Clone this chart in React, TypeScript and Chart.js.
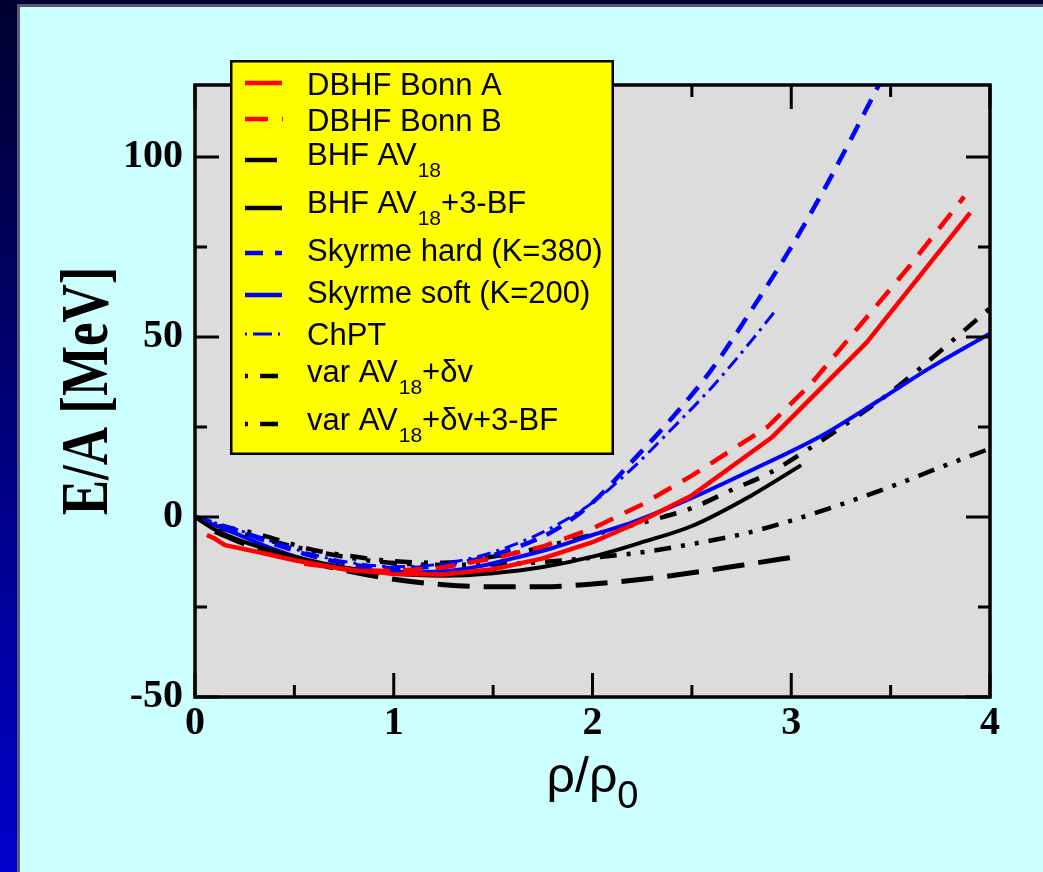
import React, { useEffect, useRef } from "react";
import { Chart, registerables } from "chart.js";

Chart.register(...registerables);

// ---------------- data ----------------
const xTicks = [0, 1, 2, 3, 4];
const yTicks = [-50, 0, 50, 100];
const xMinorTicks = [0.5, 1.5, 2.5, 3.5];
const yMinorTicks = [-25, 25, 75];

const seriesNames = [
  "DBHF Bonn A",
  "DBHF Bonn B",
  "BHF AV18",
  "BHF AV18+3-BF",
  "Skyrme hard (K=380)",
  "Skyrme soft (K=200)",
  "ChPT",
  "var AV18+δv",
  "var AV18+δv+3-BF",
];

// legend text split into [main, subscript, suffix]
const legendParts = [
  ["DBHF Bonn A"],
  ["DBHF Bonn B"],
  ["BHF AV", "18"],
  ["BHF AV", "18", "+3-BF"],
  ["Skyrme hard (K=380)"],
  ["Skyrme soft (K=200)"],
  ["ChPT"],
  ["var AV", "18", "+δv"],
  ["var AV", "18", "+δv+3-BF"],
];

const bonnAX = [0.06, 0.1, 0.15, 0.3, 0.5, 0.75, 1.0, 1.25, 1.5, 1.75, 2.0, 2.25, 2.5, 2.9, 3.38, 3.9];
const bonnAY = [-5, -6, -7.8, -9.5, -12, -14.5, -15.8, -16, -14.5, -11.5, -7, -1, 6, 22, 48.5, 84.5];

const bonnBX = [0.55, 0.8, 1.0, 1.25, 1.5, 1.75, 2.0, 2.25, 2.5, 2.88, 3.1, 3.38, 3.6, 3.87];
const bonnBY = [-13, -14.8, -15, -14, -11.5, -8.2, -3.2, 3.5, 11.5, 25, 37, 55.5, 70, 89];

const bhfX = [0.1, 0.25, 0.5, 0.75, 1.0, 1.25, 1.5, 1.75, 2.0, 2.25, 2.5, 2.75, 3.05];
const bhfY = [-4, -7.5, -11.5, -14.8, -17.3, -18.8, -19.4, -19.4, -18.6, -17.3, -15.5, -13.4, -10.8];

const bhf3X = [0, 0.1, 0.25, 0.5, 0.75, 1.0, 1.25, 1.5, 1.75, 2.0, 2.25, 2.5, 2.8, 3.05];
const bhf3Y = [0, -3.5, -7, -11, -14, -15.8, -16.3, -15.6, -13.9, -11, -7, -2.5, 6, 14.4];

const hardX = [0, 0.2, 0.4, 0.6, 0.8, 1.0, 1.2, 1.4, 1.6, 1.8, 2.0, 2.2, 2.4, 2.6, 2.8, 3.0, 3.2, 3.45];
const hardY = [0, -3.5, -7.5, -11, -13.3, -14.2, -13.8, -12, -8.8, -4, 4, 15.5, 27.5, 41, 57.5, 75, 94.5, 121];

const softX = [0, 0.2, 0.4, 0.6, 0.8, 1.0, 1.2, 1.4, 1.6, 1.8, 2.0, 2.2, 2.5, 2.8, 3.15, 3.43, 3.7, 4.0];
const softY = [0, -4.5, -9, -12.5, -14.5, -15.3, -15.2, -14, -11.5, -8.6, -5, -1.5, 5.3, 13, 22.5, 32, 41.5, 51];

const chptX = [0, 0.2, 0.4, 0.6, 0.8, 1.0, 1.2, 1.4, 1.6, 1.8, 2.0, 2.2, 2.4, 2.6, 2.8, 2.93];
const chptY = [0, -3.3, -7, -10.5, -12.8, -13.8, -13.3, -11.3, -7.8, -2.8, 4, 13.5, 24.5, 36, 49, 58];

const varX = [0.12, 0.3, 0.6, 0.8, 1.0, 1.25, 1.5, 1.75, 2.0, 2.25, 2.5, 2.75, 3.0, 3.25, 3.5, 3.75, 4.0];
const varY = [-3, -5.5, -9.5, -11.5, -12.8, -13.3, -13.2, -12.5, -11.3, -9.8, -7.5, -4.8, -1, 3.5, 8.4, 13.8, 19];

const var3X = [0.12, 0.3, 0.6, 0.8, 1.0, 1.25, 1.5, 1.7, 1.9, 2.1, 2.33, 2.5, 2.7, 2.9, 3.09, 3.27, 3.46, 3.62, 3.79, 4.0];
const var3Y = [-2.5, -4.5, -9.2, -11, -12.3, -12.7, -11, -9, -6.3, -3.6, -0.4, 2.5, 7.5, 12.5, 19, 25.6, 33, 40, 48, 58];

// ---------------- styles ----------------
const RED = "#ff0000";
const BLUE = "#0000ff";
const BLACK = "#000000";
const SERIF = "'Liberation Serif', 'Times New Roman', serif";
const SANS = "'Liberation Sans', Arial, Helvetica, sans-serif";

const pts = (xs: number[], ys: number[]) => xs.map((x, i) => ({ x, y: ys[i] }));

const seriesStyle = [
  { color: RED, width: 4.5, dash: [] as number[], smooth: false, legendDash: [] as number[], legendEnd: 282, legendWidth: 4.5 },
  { color: RED, width: 4.5, dash: [20, 13], smooth: false, legendDash: [23, 14], legendEnd: 283, legendWidth: 4.5 },
  { color: BLACK, width: 5, dash: [32, 14], smooth: true, legendDash: [], legendEnd: 277, legendWidth: 4.5 },
  { color: BLACK, width: 4, dash: [], smooth: true, legendDash: [], legendEnd: 282, legendWidth: 4.5 },
  { color: BLUE, width: 4.5, dash: [17, 11], smooth: true, legendDash: [18, 12], legendEnd: 282, legendWidth: 4.5 },
  { color: BLUE, width: 4, dash: [], smooth: true, legendDash: [], legendEnd: 282, legendWidth: 4.5 },
  { color: BLUE, width: 3, dash: [14, 6, 3, 6], smooth: true, legendDash: [2, 6, 19, 6], legendEnd: 282, legendWidth: 3 },
  { color: BLACK, width: 4.5, dash: [17, 10, 4, 10, 4, 10], smooth: true, legendDash: [3, 12, 18, 100], legendEnd: 282, legendWidth: 4.5 },
  { color: BLACK, width: 4.5, dash: [17, 12, 4, 12], smooth: true, legendDash: [3, 12, 18, 100], legendEnd: 282, legendWidth: 4.5 },
];

const seriesData = [
  pts(bonnAX, bonnAY),
  pts(bonnBX, bonnBY),
  pts(bhfX, bhfY),
  pts(bhf3X, bhf3Y),
  pts(hardX, hardY),
  pts(softX, softY),
  pts(chptX, chptY),
  pts(varX, varY),
  pts(var3X, var3Y),
];

// legend layout (line y, text baseline y)
const legendRows = [
  [83, 95], [119, 131], [160, 165], [208, 213], [253, 261],
  [295, 303], [334, 345], [376, 382], [424, 430],
];

const decorPlugin = {
  id: "decor",
  beforeDraw(chart: any) {
    const { ctx, width, height, chartArea: ca } = chart;
    ctx.save();
    const g = ctx.createLinearGradient(0, 0, 0, height);
    g.addColorStop(0, "#00002e");
    g.addColorStop(1, "#0000cc");
    ctx.fillStyle = g;
    ctx.fillRect(0, 0, width, height);
    ctx.fillStyle = "#5a5a78";
    ctx.fillRect(17, 4, width - 17, height - 4);
    ctx.fillStyle = "#ccffff";
    ctx.fillRect(20, 7, width - 20, height - 7);
    ctx.fillStyle = "#dcdcdc";
    ctx.fillRect(ca.left, ca.top, ca.right - ca.left, ca.bottom - ca.top);
    ctx.restore();
  },
  afterDraw(chart: any) {
    const { ctx, chartArea: ca, scales } = chart;
    const xs = scales.x;
    const ys = scales.y;
    ctx.save();
    ctx.strokeStyle = "#000";
    ctx.lineCap = "butt";
    ctx.lineWidth = 3;
    const seg = (x1: number, y1: number, x2: number, y2: number) => {
      ctx.beginPath();
      ctx.moveTo(x1, y1);
      ctx.lineTo(x2, y2);
      ctx.stroke();
    };
    xTicks.forEach((v) => {
      const p = xs.getPixelForValue(v);
      seg(p, ca.bottom, p, ca.bottom - 24);
      seg(p, ca.top, p, ca.top + 24);
    });
    xMinorTicks.forEach((v) => {
      const p = xs.getPixelForValue(v);
      seg(p, ca.bottom, p, ca.bottom - 12);
      seg(p, ca.top, p, ca.top + 12);
    });
    yTicks.forEach((v) => {
      const p = ys.getPixelForValue(v);
      seg(ca.left, p, ca.left + 24, p);
      seg(ca.right, p, ca.right - 24, p);
    });
    yMinorTicks.forEach((v) => {
      const p = ys.getPixelForValue(v);
      seg(ca.left, p, ca.left + 12, p);
      seg(ca.right, p, ca.right - 12, p);
    });
    ctx.lineWidth = 3.5;
    ctx.strokeRect(ca.left, ca.top, ca.right - ca.left, ca.bottom - ca.top);

    // legend box
    ctx.fillStyle = "#ffff00";
    ctx.fillRect(230, 60, 384, 395);
    ctx.lineWidth = 2.5;
    ctx.strokeStyle = "#000";
    ctx.strokeRect(231.25, 61.25, 381.5, 392.5);

    legendParts.forEach((parts, i) => {
      const st = seriesStyle[i];
      const [ly, by] = legendRows[i];
      ctx.save();
      ctx.strokeStyle = st.color;
      ctx.lineWidth = st.legendWidth;
      ctx.setLineDash(st.legendDash);
      ctx.beginPath();
      ctx.moveTo(245, ly);
      ctx.lineTo(st.legendEnd, ly);
      ctx.stroke();
      ctx.restore();
      ctx.fillStyle = "#000";
      ctx.textAlign = "left";
      ctx.textBaseline = "alphabetic";
      let x = 307;
      ctx.font = `31px ${SANS}`;
      ctx.fillText(parts[0], x, by);
      x += ctx.measureText(parts[0]).width;
      if (parts[1]) {
        ctx.font = `21px ${SANS}`;
        ctx.fillText(parts[1], x + 1, by + 12);
        x += ctx.measureText(parts[1]).width + 1;
      }
      if (parts[2]) {
        ctx.font = `31px ${SANS}`;
        ctx.fillText(parts[2], x, by);
      }
    });

    // y title (stretched bold serif)
    ctx.save();
    ctx.translate(85, 391);
    ctx.rotate(-Math.PI / 2);
    ctx.scale(1, 1.28);
    ctx.fillStyle = "#000";
    ctx.font = `bold 53px ${SERIF}`;
    ctx.textAlign = "center";
    ctx.textBaseline = "alphabetic";
    ctx.fillText("E/A [MeV]", 0, 17.5);
    ctx.restore();

    // x title rho/rho_0
    ctx.fillStyle = "#000";
    ctx.textAlign = "left";
    ctx.textBaseline = "alphabetic";
    ctx.font = `50px ${SANS}`;
    const main = "ρ/ρ";
    const wMain = ctx.measureText(main).width;
    ctx.font = `38px ${SANS}`;
    const wSub = ctx.measureText("0").width;
    const cx = (ca.left + ca.right) / 2;
    const x0 = cx - (wMain + wSub) / 2;
    ctx.font = `50px ${SANS}`;
    ctx.fillText(main, x0, 792);
    ctx.font = `38px ${SANS}`;
    ctx.fillText("0", x0 + wMain, 808);
    ctx.restore();
  },
};

export default function App() {
  const ref = useRef<HTMLCanvasElement | null>(null);
  useEffect(() => {
    if (!ref.current) return;
    const tickFont = { family: SERIF, size: 40, weight: "bold" as const };
    const chart = new Chart(ref.current, {
      type: "scatter",
      data: {
        datasets: seriesData.map((d, i) => ({
          label: seriesNames[i],
          data: d,
          showLine: true,
          pointRadius: 0,
          pointHoverRadius: 0,
          fill: false,
          borderColor: seriesStyle[i].color,
          backgroundColor: seriesStyle[i].color,
          borderWidth: seriesStyle[i].width,
          borderDash: seriesStyle[i].dash,
          borderCapStyle: "butt",
          borderJoinStyle: "round",
          cubicInterpolationMode: seriesStyle[i].smooth ? "monotone" : "default",
          tension: 0,
        })),
      },
      plugins: [decorPlugin],
      options: {
        responsive: false,
        devicePixelRatio: 1,
        animation: false,
        events: [],
        layout: { padding: { top: 85, right: 53, left: 0, bottom: 0 } },
        plugins: {
          legend: { display: false },
          tooltip: { enabled: false },
          title: { display: false },
        },
        scales: {
          x: {
            type: "linear",
            min: 0,
            max: 4,
            grid: { display: false, drawTicks: false },
            border: { display: false },
            ticks: { font: tickFont, color: "#000", padding: 3, maxRotation: 0 },
            afterBuildTicks: (s: any) => {
              s.ticks = xTicks.map((v) => ({ value: v }));
            },
            afterFit: (s: any) => {
              s.height = 175;
            },
          },
          y: {
            type: "linear",
            min: -50,
            max: 120,
            grid: { display: false, drawTicks: false },
            border: { display: false },
            ticks: { font: tickFont, color: "#000", padding: 12 },
            afterBuildTicks: (s: any) => {
              s.ticks = yTicks.map((v) => ({ value: v }));
            },
            afterFit: (s: any) => {
              s.width = 195;
            },
          },
        },
      } as any,
    });
    return () => chart.destroy();
  }, []);
  return (
    <div style={{ position: "absolute", left: 0, top: 0, width: 1043, height: 872 }}>
      <canvas ref={ref} width={1043} height={872} style={{ width: 1043, height: 872, display: "block" }} />
    </div>
  );
}
